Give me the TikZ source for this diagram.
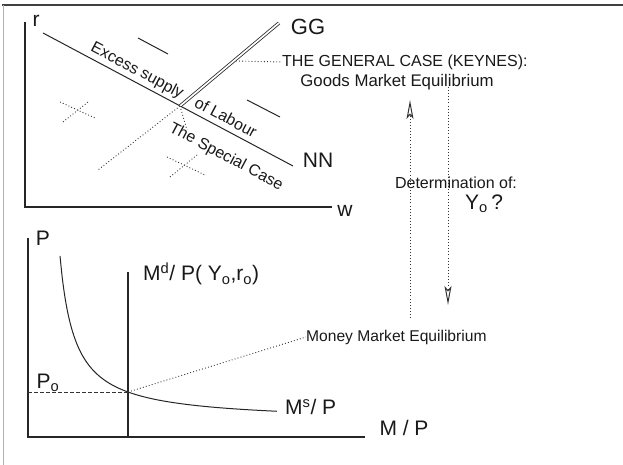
\documentclass[tikz,border=0pt]{standalone}
\usepackage{fontspec}
\setmainfont{Liberation Sans}
\usetikzlibrary{arrows.meta}
\tikzset{
  axis/.style={draw=black!85, line width=1.1pt},
  curve/.style={draw=black!85, line width=1pt},
  pointer/.style={draw=black!80, line width=0.9pt, dash pattern=on 0.9pt off 2.2pt},
  flow/.style={draw=black!80, line width=0.9pt, dash pattern=on 0.9pt off 2.2pt,
     -{Stealth[open, length=19pt, width=7pt, inset=4pt, line width=1pt]}},
  lab/.style={inner sep=0pt, text=black!90},
  big/.style={lab, font=\fontsize{21}{21}\selectfont},
  mid/.style={lab, font=\fontsize{16}{16}\selectfont},
}
\begin{document}
\begin{tikzpicture}[x=1pt, y=-1pt]
\useasboundingbox (0,0) rectangle (623,465);
% frame
\draw[black!75, line width=1.6pt] (2,5) -- (623,5);
\draw[black!30, line width=1pt] (3,5) -- (3,465);

% ---------- upper diagram ----------
\draw[axis] (25,22) -- (25,207) -- (332,207);
\node[big] (r) at (36,21) {r};
\node[big] (w) at (345,211) {w};

% NN line
\coordinate (nnA) at (43,33);
\coordinate (nnB) at (293,166);
\coordinate (X) at (180,106);
\draw[curve] (nnA) -- (nnB);
\node[big] (NN) at (318,160) {NN};
% GG double line
\coordinate (ggT) at (279,23);
\draw[draw=black!85, line width=0.8pt, double=white, double distance=1.7pt] (X) -- (ggT);
\node[big, font=\fontsize{22}{22}\selectfont] (GG) at (308,27) {GG};

% labels along NN
\node[mid, rotate=-28] (exc) at (137,71) {Excess supply};
\node[mid, rotate=-28] (lab) at (226,117) {of Labour};
\node[mid, rotate=-28] (spec) at (226,157) {The Special Case};

% short solid dashes
\draw[curve] (138,38) -- (168,54);
\draw[curve] (247,100) -- (280,117);

% dotted crosses
\draw[pointer] (60,102) -- (95,118);
\draw[pointer] (63,122) -- (88,102);
\draw[pointer] (167,157) -- (205,175);
\draw[pointer] (170,177) -- (197,155);

% dotted lines from the intersection
\coordinate (dl) at (98,170);
\coordinate (ds) at (187,130);
\draw[pointer] (X) -- (dl);
\draw[pointer] (X) -- (ds);

% general case
\node[mid, anchor=west] (gen) at (282,62) {THE GENERAL CASE (KEYNES):};
\node[mid, font=\fontsize{16.8}{17}\selectfont] (goods) at (397,82) {Goods Market Equilibrium};
\coordinate (ggP) at (236,61);
\draw[pointer] (ggP) -- (gen.west);

% determination
\node[mid] (det) at (456,183) {Determination of:};
\node[big, anchor=west] (Yo) at (465,204) {Y\textsubscript{o}\,?};

% vertical flows
\coordinate (upS) at (410,318);
\coordinate (upE) at (410,100);
\coordinate (dnS) at (448,87);
\coordinate (dnE) at (448,305);
\draw[flow] (upS) -- (upE);
\draw[flow] (dnS) -- (dnE);

% ---------- lower diagram ----------
\draw[axis] (28,238) -- (28,437) -- (365,437);
\node[big] (P) at (43,238) {P};
\node[big] (MP) at (404,428) {M / P};
% money demand vertical
\coordinate (mdT) at (128,272);
\coordinate (mdB) at (128,437);
\draw[axis] (mdT) -- (mdB);
\node[big, anchor=west] (Md) at (143,274) {M\textsuperscript{d}/ P( Y\textsubscript{o},r\textsubscript{o})};
% money supply curve
\draw[curve] plot[domain=60:277, samples=90, smooth] (\x, {422-2490/(\x-45)});
\node[big, anchor=west] (Ms) at (285,407) {M\textsuperscript{s}/ P};
% equilibrium
\coordinate (E) at (128,392);
\coordinate (P0) at (28,392);
\draw[draw=black!80, line width=1pt, dash pattern=on 4pt off 2pt] (P0) -- (E);
\node[big] (Po) at (48,383) {P\textsubscript{o}};
\node[mid, anchor=west, font=\fontsize{15.6}{16}\selectfont] (mme) at (306,337) {Money Market Equilibrium};
\draw[pointer] (E) -- (mme.west);
\end{tikzpicture}
\end{document}
